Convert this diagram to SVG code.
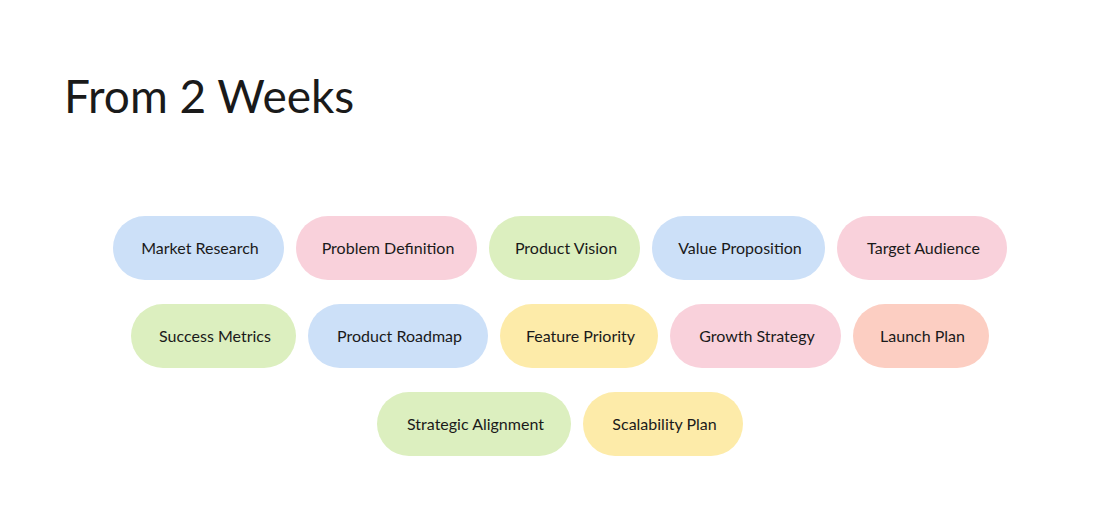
<svg xmlns="http://www.w3.org/2000/svg" width="1120" height="520" viewBox="0 0 1120 520">
<style>
.t{font-family:Lato,"Liberation Sans",sans-serif;font-size:16px;fill:#1a1a1a;text-anchor:middle}
.h{font-family:Lato,"Liberation Sans",sans-serif;font-size:46px;fill:#1a1a1a}
.b{fill:#CCE0F8}.p{fill:#F9D1DB}.g{fill:#DCEFBF}.y{fill:#FDEBA9}.s{fill:#FCCEC2}
</style>
<rect width="1120" height="520" fill="#ffffff"/>
<text class="h" x="64" y="113">From 2 Weeks</text>
<g id="n1"><rect class="b" x="113" y="216" width="171" height="64" rx="32"/><text class="t" x="200" y="254">Market Research</text></g>
<g id="n2"><rect class="p" x="296" y="216" width="181" height="64" rx="32"/><text class="t" x="388" y="254">Problem Definition</text></g>
<g id="n3"><rect class="g" x="489" y="216" width="151" height="64" rx="32"/><text class="t" x="566" y="254">Product Vision</text></g>
<g id="n4"><rect class="b" x="652" y="216" width="173" height="64" rx="32"/><text class="t" x="740" y="254">Value Proposition</text></g>
<g id="n5"><rect class="p" x="837" y="216" width="170" height="64" rx="32"/><text class="t" x="923.5" y="254">Target Audience</text></g>
<g id="n6"><rect class="g" x="131" y="304" width="165" height="64" rx="32"/><text class="t" x="215" y="342">Success Metrics</text></g>
<g id="n7"><rect class="b" x="308" y="304" width="180" height="64" rx="32"/><text class="t" x="399.5" y="342">Product Roadmap</text></g>
<g id="n8"><rect class="y" x="500" y="304" width="158" height="64" rx="32"/><text class="t" x="580.5" y="342">Feature Priority</text></g>
<g id="n9"><rect class="p" x="670" y="304" width="171" height="64" rx="32"/><text class="t" x="757" y="342">Growth Strategy</text></g>
<g id="n10"><rect class="s" x="853" y="304" width="136" height="64" rx="32"/><text class="t" x="922.5" y="342">Launch Plan</text></g>
<g id="n11"><rect class="g" x="377" y="392" width="194" height="64" rx="32"/><text class="t" x="475.5" y="430">Strategic Alignment</text></g>
<g id="n12"><rect class="y" x="583" y="392" width="160" height="64" rx="32"/><text class="t" x="664.5" y="430">Scalability Plan</text></g>
<g id="connectors"></g>
</svg>
